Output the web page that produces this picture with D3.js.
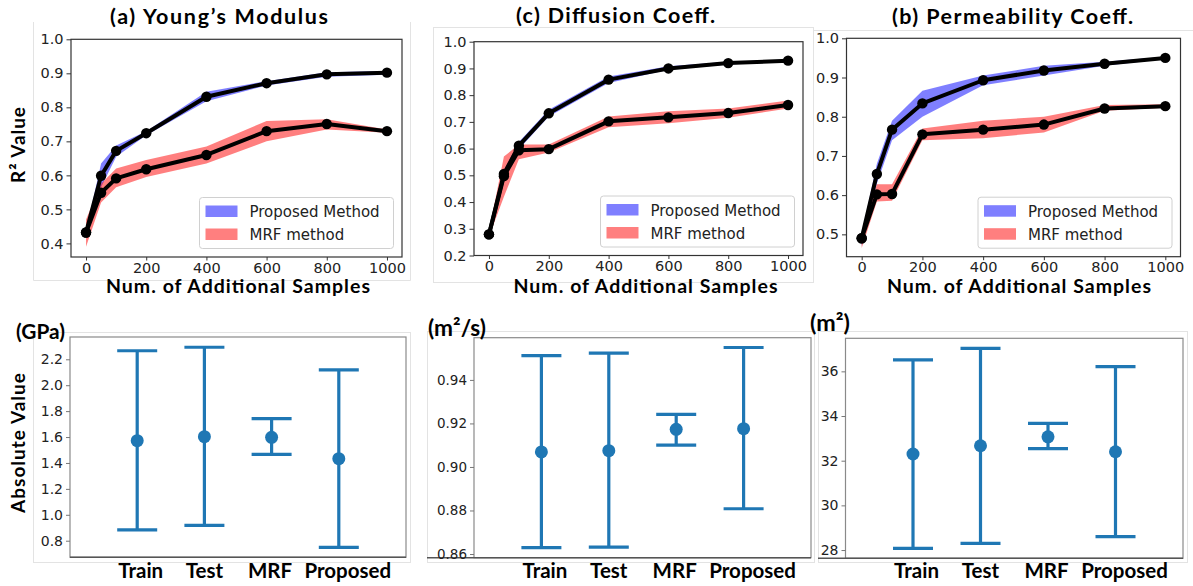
<!DOCTYPE html>
<html><head><meta charset="utf-8">
<script src="https://cdn.jsdelivr.net/npm/d3@7"></script>
<style>body{margin:0;background:#fff;} svg{display:block;}</style>
</head><body>
<svg id="c" width="1193" height="586"></svg>
<script>
// ---------- DATA ----------
const sampleCounts = [0, 50, 100, 200, 400, 600, 800, 1000];
const xTickValues = [0, 200, 400, 600, 800, 1000];

// (a) Young's Modulus
const youngProposed   = [0.432, 0.599, 0.672, 0.724, 0.831, 0.871, 0.897, 0.902];
const youngProposedLo = [0.428, 0.565, 0.655, 0.718, 0.818, 0.864, 0.890, 0.896];
const youngProposedHi = [0.436, 0.635, 0.688, 0.730, 0.846, 0.877, 0.903, 0.907];
const youngMRF   = [0.432, 0.549, 0.591, 0.618, 0.660, 0.730, 0.751, 0.730];
const youngMRFLo = [0.390, 0.520, 0.565, 0.595, 0.635, 0.700, 0.735, 0.725];
const youngMRFHi = [0.470, 0.575, 0.620, 0.645, 0.685, 0.760, 0.765, 0.735];
const youngTicks = [0.4, 0.5, 0.6, 0.7, 0.8, 0.9, 1.0];

// (c) Diffusion Coeff.
const diffProposed   = [0.279, 0.505, 0.611, 0.732, 0.858, 0.900, 0.920, 0.929];
const diffProposedLo = [0.275, 0.490, 0.598, 0.720, 0.845, 0.895, 0.915, 0.925];
const diffProposedHi = [0.283, 0.520, 0.625, 0.745, 0.870, 0.908, 0.925, 0.933];
const diffMRF   = [0.279, 0.497, 0.594, 0.598, 0.702, 0.717, 0.733, 0.763];
const diffMRFLo = [0.270, 0.420, 0.560, 0.585, 0.680, 0.695, 0.715, 0.750];
const diffMRFHi = [0.290, 0.570, 0.615, 0.615, 0.720, 0.740, 0.750, 0.780];
const diffTicks = [0.2, 0.3, 0.4, 0.5, 0.6, 0.7, 0.8, 0.9, 1.0];

// (b) Permeability Coeff.
const permProposed   = [0.490, 0.654, 0.767, 0.834, 0.893, 0.918, 0.935, 0.950];
const permProposedLo = [0.470, 0.630, 0.740, 0.800, 0.880, 0.905, 0.930, 0.947];
const permProposedHi = [0.500, 0.680, 0.790, 0.866, 0.905, 0.930, 0.940, 0.953];
const permMRF   = [0.490, 0.602, 0.603, 0.755, 0.767, 0.780, 0.821, 0.827];
const permMRFLo = [0.465, 0.584, 0.586, 0.740, 0.745, 0.760, 0.815, 0.823];
const permMRFHi = [0.500, 0.628, 0.628, 0.770, 0.790, 0.800, 0.830, 0.832];
const permTicks = [0.5, 0.6, 0.7, 0.8, 0.9, 1.0];

const legendLabels = ["Proposed Method", "MRF method"];

// Bottom error-bar panels
const categories = ["Train", "Test", "MRF", "Proposed"];
const youngAbsMean = [1.572, 1.603, 1.598, 1.433];
const youngAbsLow  = [0.883, 0.919, 1.467, 0.749];
const youngAbsHigh = [2.266, 2.293, 1.742, 2.118];
const youngAbsTicks = [0.8, 1.0, 1.2, 1.4, 1.6, 1.8, 2.0, 2.2];

const diffAbsMean = [0.9069, 0.9075, 0.9173, 0.9176];
const diffAbsLow  = [0.8629, 0.8632, 0.9100, 0.8808];
const diffAbsHigh = [0.9512, 0.9523, 0.9242, 0.9549];
const diffAbsTicks = [0.86, 0.88, 0.90, 0.92, 0.94];

const permAbsMean = [32.30, 32.67, 33.07, 32.40];
const permAbsLow  = [28.07, 28.30, 32.54, 28.60];
const permAbsHigh = [36.51, 37.03, 33.67, 36.21];
const permAbsTicks = [28, 30, 32, 34, 36];

// ---------- DRAWING ----------
const svg = d3.select('#c');
const BOLD = "Lato, 'Open Sans', sans-serif";
const TICKF = "'DejaVu Sans', sans-serif";

function boldText(x, y, txt, width, fs, rotate) {
  const t = svg.append('text').attr('font-family', BOLD).attr('font-weight', 700)
    .attr('font-size', fs).attr('fill', '#000').attr('text-anchor', 'middle').text(txt);
  if (rotate) t.attr('transform', `translate(${x},${y}) rotate(-90)`);
  else t.attr('x', x).attr('y', y);
  const n = t.node().getComputedTextLength();
  if (Math.abs(n - width) > 1) t.attr('textLength', width).attr('lengthAdjust', 'spacing');
  return t;
}

// faint outer borders of the pasted sub-images
const borderColor = '#e3e3e3';
svg.append('path').attr('d', 'M33.5,22 V280.5 H410.5 V22').attr('fill', 'none').attr('stroke', borderColor);
svg.append('rect').attr('x', 433.5).attr('y', 27.5).attr('width', 380).attr('height', 255).attr('fill', 'none').attr('stroke', borderColor);
svg.append('path').attr('d', 'M813.5,279.5 V30.5 H1193').attr('fill', 'none').attr('stroke', borderColor);
svg.append('rect').attr('x', 33.5).attr('y', 332.5).attr('width', 377).attr('height', 230).attr('fill', 'none').attr('stroke', borderColor);
svg.append('rect').attr('x', 427.5).attr('y', 331.5).attr('width', 387).attr('height', 231).attr('fill', 'none').attr('stroke', borderColor);
svg.append('rect').attr('x', 818.5).attr('y', 331.5).attr('width', 369).attr('height', 231).attr('fill', 'none').attr('stroke', borderColor);

function styleAxis(g, fs) {
  g.select('.domain').remove();
  g.selectAll('.tick line').attr('stroke', '#333').attr('stroke-width', 1);
  g.selectAll('.tick text').attr('font-family', TICKF).attr('font-size', fs).attr('fill', '#222');
}

function linePanel(cfg) {
  const x = d3.scaleLinear().domain([-50, 1050]).range([cfg.x0, cfg.x1]);
  const y = d3.scaleLinear().domain(cfg.yDomain).range([cfg.y1, cfg.y0]);
  const g = svg.append('g');
  const area = d3.area().x((d, i) => x(sampleCounts[i])).y0(d => y(d[0])).y1(d => y(d[1]));
  g.append('path').datum(d3.zip(cfg.pLo, cfg.pHi)).attr('d', area).attr('fill', '#0000ff').attr('fill-opacity', 0.5);
  g.append('path').datum(d3.zip(cfg.mLo, cfg.mHi)).attr('d', area).attr('fill', '#ff0000').attr('fill-opacity', 0.5);
  const line = d3.line().x((d, i) => x(sampleCounts[i])).y(d => y(d));
  [cfg.p, cfg.m].forEach(s => {
    g.append('path').datum(s).attr('d', line).attr('fill', 'none').attr('stroke', '#000')
      .attr('stroke-width', 4).attr('stroke-linejoin', 'round');
    g.selectAll(null).data(s).enter().append('circle')
      .attr('cx', (d, i) => x(sampleCounts[i])).attr('cy', d => y(d)).attr('r', 5.2).attr('fill', '#000');
  });
  g.append('rect').attr('x', cfg.x0).attr('y', cfg.y0).attr('width', cfg.x1 - cfg.x0).attr('height', cfg.y1 - cfg.y0)
    .attr('fill', 'none').attr('stroke', '#333').attr('stroke-width', 1.2);
  const ya = g.append('g').attr('transform', `translate(${cfg.x0},0)`)
    .call(d3.axisLeft(y).tickValues(cfg.yTicks).tickFormat(d3.format('.1f')).tickSize(4.5).tickPadding(3));
  styleAxis(ya, 14.5);
  const xa = g.append('g').attr('transform', `translate(0,${cfg.y1})`)
    .call(d3.axisBottom(x).tickValues(xTickValues).tickFormat(d3.format('d')).tickSize(3.5).tickPadding(2));
  styleAxis(xa, 14.5);
  // legend
  const lw = 194, lh = 51;
  const lx = cfg.x1 - 8.5 - lw, ly = cfg.y1 - 8.5 - lh;
  const lg = g.append('g').attr('transform', `translate(${lx},${ly})`);
  lg.append('rect').attr('width', lw).attr('height', lh).attr('rx', 3).attr('fill', '#fff').attr('fill-opacity', 0.85)
    .attr('stroke', '#d0d0d0');
  const fills = ['#0000ff', '#ff0000'];
  legendLabels.forEach((lab, i) => {
    lg.append('rect').attr('x', 6).attr('y', 8 + i * 23).attr('width', 32).attr('height', 11.5)
      .attr('fill', fills[i]).attr('fill-opacity', 0.5);
    lg.append('text').attr('x', 50).attr('y', 19.5 + i * 23).attr('font-family', TICKF).attr('font-size', 15)
      .attr('fill', '#222').text(lab);
  });
  boldText(cfg.titleX, cfg.titleY, cfg.title, cfg.titleW, 21.5);
  boldText(cfg.xlabX, 293, 'Num. of Additional Samples', 264, 19.5);
}

linePanel({x0: 71, x1: 402, y0: 39.3, y1: 257, yDomain: [0.36, 1.0], yTicks: youngTicks,
  p: youngProposed, pLo: youngProposedLo, pHi: youngProposedHi, m: youngMRF, mLo: youngMRFLo, mHi: youngMRFHi,
  title: '(a) Young\u2019s Modulus', titleX: 219, titleY: 24, titleW: 218, xlabX: 238});
linePanel({x0: 474, x1: 803, y0: 41.7, y1: 255.5, yDomain: [0.2, 1.0], yTicks: diffTicks,
  p: diffProposed, pLo: diffProposedLo, pHi: diffProposedHi, m: diffMRF, mLo: diffMRFLo, mHi: diffMRFHi,
  title: '(c) Diffusion Coeff.', titleX: 615.5, titleY: 22.5, titleW: 199, xlabX: 645.5});
linePanel({x0: 846.5, x1: 1180.5, y0: 38.3, y1: 256.7, yDomain: [0.443, 1.0], yTicks: permTicks,
  p: permProposed, pLo: permProposedLo, pHi: permProposedHi, m: permMRF, mLo: permMRFLo, mHi: permMRFHi,
  title: '(b) Permeability Coeff.', titleX: 1012.5, titleY: 23.5, titleW: 241, xlabX: 1019});

boldText(25, 145, 'R\u00b2 Value', 76, 19, true);

function errPanel(cfg) {
  const x = d3.scaleLinear().domain([0, 5]).range([cfg.x0, cfg.x1]);
  const y = d3.scaleLinear().domain(cfg.yDomain).range([cfg.y1, cfg.y0]);
  const g = svg.append('g');
  g.append('rect').attr('x', cfg.x0).attr('y', cfg.y0).attr('width', cfg.x1 - cfg.x0).attr('height', cfg.y1 - cfg.y0)
    .attr('fill', 'none').attr('stroke', '#8a8a8a').attr('stroke-width', 1.2);
  g.append('line').attr('x1', cfg.bx0).attr('x2', cfg.x1).attr('y1', cfg.y1).attr('y2', cfg.y1)
    .attr('stroke', '#555').attr('stroke-width', 1.5);
  const ya = g.append('g').attr('transform', `translate(${cfg.x0},0)`)
    .call(d3.axisLeft(y).tickValues(cfg.ticks).tickFormat(cfg.fmt).tickSize(4).tickPadding(3));
  styleAxis(ya, cfg.fs);
  ya.selectAll('.tick line').attr('stroke', '#777');
  const col = '#1f77b4';
  const cap = 20;
  categories.forEach((c, i) => {
    const cx = x(i + 1);
    g.append('line').attr('x1', cx).attr('x2', cx).attr('y1', y(cfg.low[i])).attr('y2', y(cfg.high[i]))
      .attr('stroke', col).attr('stroke-width', 3.2);
    [cfg.low[i], cfg.high[i]].forEach(v => g.append('line').attr('x1', cx - cap).attr('x2', cx + cap)
      .attr('y1', y(v)).attr('y2', y(v)).attr('stroke', col).attr('stroke-width', 3.2));
    g.append('circle').attr('cx', cx).attr('cy', y(cfg.mean[i])).attr('r', 6.5).attr('fill', col);
    svg.append('text').attr('x', cx + cfg.lblShift[i]).attr('y', 578).attr('text-anchor', 'middle')
      .attr('font-family', BOLD).attr('font-weight', 700).attr('font-size', 20.5).attr('fill', '#000').text(c);
  });
  const u = svg.append('text').attr('x', cfg.unitX).attr('y', cfg.unitY).attr('font-family', BOLD)
    .attr('font-weight', 700).attr('font-size', 18).attr('fill', '#000').text(cfg.unit);
  const n = u.node().getComputedTextLength();
  u.attr('font-size', 18 * cfg.unitW / n);
}

const lblShift = [3.5, 0, -1.5, 9];
errPanel({x0: 70, x1: 406, y0: 337, y1: 557.3, bx0: 70, yDomain: [0.672, 2.372], ticks: youngAbsTicks,
  fmt: d3.format('.1f'), fs: 14, mean: youngAbsMean, low: youngAbsLow, high: youngAbsHigh,
  unit: '(GPa)', unitX: 16, unitY: 339, unitW: 49, lblShift});
errPanel({x0: 474, x1: 811, y0: 337.7, y1: 557.7, bx0: 427, yDomain: [0.8583, 0.9594], ticks: diffAbsTicks,
  fmt: d3.format('.2f'), fs: 13.5, mean: diffAbsMean, low: diffAbsLow, high: diffAbsHigh,
  unit: '(m\u00b2/s)', unitX: 428, unitY: 336, unitW: 58, lblShift});
errPanel({x0: 845.5, x1: 1183, y0: 338.3, y1: 558.3, bx0: 818, yDomain: [27.63, 37.48], ticks: permAbsTicks,
  fmt: d3.format('d'), fs: 14, mean: permAbsMean, low: permAbsLow, high: permAbsHigh,
  unit: '(m\u00b2)', unitX: 810, unitY: 331, unitW: 40, lblShift});

boldText(25, 443, 'Absolute Value', 140, 19, true);
</script>
</body></html>
